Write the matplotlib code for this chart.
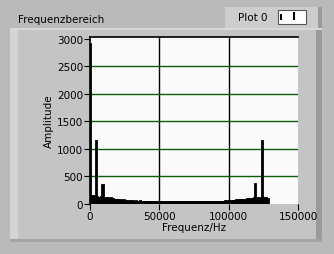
import matplotlib.pyplot as plt
from matplotlib.patches import Rectangle

W, H = 334, 255

# spectrum, one value per 1000 Hz bin (0 .. 128 kHz)
freq_khz = list(range(0, 129))
amplitude = [
    2900, 150, 140, 120, 1150, 130, 100, 110, 120, 350,
    100, 105, 95, 100, 90, 100, 85, 75, 80, 70,
    65, 75, 60, 55, 70, 50, 45, 55, 40, 50,
    45, 60, 40, 50, 45, 40, 50, 35, 45, 40,
    35, 35, 30, 40, 30, 35, 30, 35, 30, 30,
    35, 30, 30, 35, 30, 30, 30, 35, 30, 30,
    30, 35, 30, 30, 30, 35, 30, 30, 30, 30,
    35, 30, 30, 30, 35, 30, 30, 35, 30, 30,
    35, 30, 35, 30, 35, 35, 30, 35, 35, 40,
    35, 40, 35, 40, 40, 45, 40, 50, 45, 50,
    45, 55, 50, 60, 55, 70, 60, 75, 65, 80,
    70, 80, 75, 85, 80, 90, 85, 90, 100, 360,
    100, 110, 95, 105, 1150, 110, 105, 100, 90,
]
freqs = [f * 1000 for f in freq_khz]

x_ticks = [0, 50000, 100000, 150000]
y_ticks = [0, 500, 1000, 1500, 2000, 2500, 3000]

BG = "#bababa"
PANEL = "#c4c4c4"


def fx(x):
    return x / W


def fy(y):
    return 1 - y / H


def box(x, y, w, h, **kw):
    # x, y = top-left corner in pixels
    r = Rectangle((fx(x), fy(y + h)), w / W, h / H, transform=fig.transFigure,
                  zorder=0, **kw)
    fig.add_artist(r)


fig = plt.figure(figsize=(W / 100, H / 100), dpi=100, facecolor=BG)

# raised panel behind the graph
box(10, 29, 312, 214, facecolor=PANEL, edgecolor="none")
box(10, 29, 8, 214, facecolor="#d4d4d4", edgecolor="none")
box(316, 29, 6, 214, facecolor="#9a9a9a", edgecolor="none")
box(10, 240, 312, 3, facecolor="#a4a4a4", edgecolor="none")
box(10, 29, 312, 2, facecolor="#d8d8d8", edgecolor="none")

fig.text(fx(18), fy(20), "Frequenzbereich", fontsize=7.5, va="center", ha="left")

# legend box "Plot 0"
box(225, 8, 97, 21, facecolor="#cdcdcd", edgecolor="none")
box(318, 8, 4, 21, facecolor="#9a9a9a", edgecolor="none")
fig.text(fx(238), fy(18), "Plot 0", fontsize=7.5, va="center", ha="left")
box(278, 11, 28, 14, facecolor="white", edgecolor="#555555", linewidth=0.8)
box(280, 15, 1.5, 6, facecolor="black", edgecolor="none")
box(293, 13, 2, 8, facecolor="black", edgecolor="none")

ax = fig.add_axes([fx(90), fy(205), fx(208), 167 / H])
ax.set_zorder(2)
ax.set_facecolor("#fafafa")
ax.set_xlim(0, 150000)
ax.set_ylim(0, 3036)
ax.set_xticks(x_ticks)
ax.set_yticks(y_ticks)

# grid only on the inner ticks
for v in x_ticks[1:-1]:
    ax.axvline(v, color="black", linewidth=1, zorder=1)
for v in y_ticks[1:-1]:
    ax.axhline(v, color="#0b5e0b", linewidth=1, zorder=1)

ax.bar(freqs, amplitude, width=1000, color="black", edgecolor="black",
       linewidth=1.3, align="edge", zorder=2)

for side in ["right", "bottom"]:
    ax.spines[side].set_visible(False)
ax.spines["left"].set_color("black")
ax.spines["top"].set_color("black")
ax.spines["top"].set_linewidth(1.2)
ax.spines["left"].set_linewidth(1.2)

ax.tick_params(direction="out", length=4, width=0.8, labelsize=7.5, pad=1, colors="black")
ax.set_xlabel("Frequenz/Hz", fontsize=7.5, labelpad=1)
ax.set_ylabel("Amplitude", fontsize=7.5, labelpad=2)

fig.savefig("out.png", dpi=100, facecolor=BG)
